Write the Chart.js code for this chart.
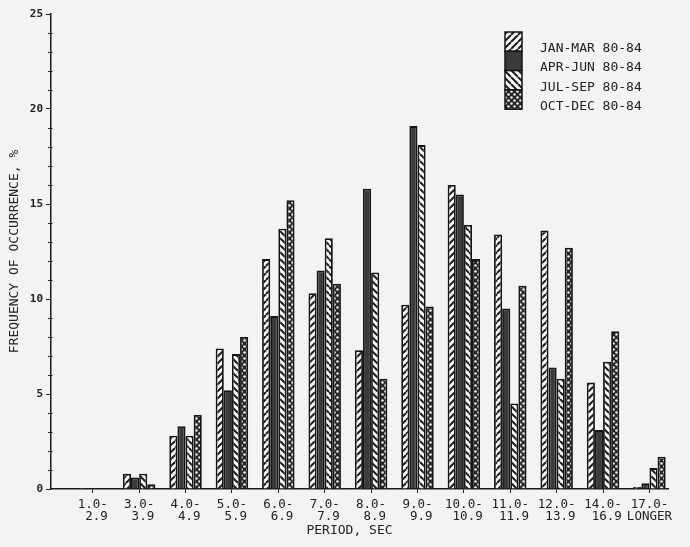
<!DOCTYPE html>
<html>
<head>
<meta charset="utf-8">
<title>Frequency of occurrence by wave period</title>
<script src="https://cdn.jsdelivr.net/npm/chart.js@4.4.1/dist/chart.umd.min.js"></script>
<style>
  html, body { margin: 0; padding: 0; background: #f3f3f3; }
  #wrap { width: 690px; height: 547px; position: relative; }
</style>
</head>
<body>
<div id="wrap"><canvas id="periodChart"></canvas></div>
<script>
// period bins, two-line tick labels
const periodFrom = ["1.0-", "3.0-", "4.0-", "5.0-", "6.0-", "7.0-", "8.0-", "9.0-", "10.0-", "11.0-", "12.0-", "14.0-", "17.0-"];
const periodTo = [" 2.9", " 3.9", " 4.9", " 5.9", " 6.9", " 7.9", " 8.9", " 9.9", " 10.9", " 11.9", " 13.9", " 16.9", "LONGER"];

// frequency of occurrence, %
const janMar = [0.05, 0.8, 2.8, 7.4, 12.1, 10.3, 7.3, 9.7, 16.0, 13.4, 13.6, 5.6, 0.1];
const aprJun = [0.05, 0.6, 3.3, 5.2, 9.1, 11.5, 15.8, 19.1, 15.5, 9.5, 6.4, 3.1, 0.3];
const julSep = [0.05, 0.8, 2.8, 7.1, 13.7, 13.2, 11.4, 18.1, 13.9, 4.5, 5.8, 6.7, 1.1];
const octDec = [0, 0.25, 3.9, 8.0, 15.2, 10.8, 5.8, 9.6, 12.1, 10.7, 12.7, 8.3, 1.7];

const seriesLabels = ["JAN-MAR 80-84", "APR-JUN 80-84", "JUL-SEP 80-84", "OCT-DEC 80-84"];
const yTickValues = [0, 5, 10, 15, 20, 25];

const MONO = "'DejaVu Sans Mono', 'Liberation Mono', monospace";

function makePattern(kind) {
    const size = kind === "dots" ? 6 : 7;
    const c = document.createElement("canvas");
    c.width = size;
    c.height = size;
    const g = c.getContext("2d");
    if (kind === "solid") {
        g.fillStyle = "#3a3a3a";
        g.fillRect(0, 0, size, size);
    } else if (kind === "dots") {
        g.fillStyle = "#242424";
        g.fillRect(0, 0, size, size);
        g.fillStyle = "#f0f0f0";
        [[1.5, 1.5], [4.5, 4.5]].forEach(([px, py]) => {
            g.beginPath();
            g.arc(px, py, 1.3, 0, Math.PI * 2);
            g.fill();
        });
    } else {
        g.fillStyle = "#fafafa";
        g.fillRect(0, 0, size, size);
        g.strokeStyle = "#1c1c1c";
        g.lineWidth = 2;
        for (const o of [-size, 0, size]) {
            g.beginPath();
            if (kind === "fwd") {
                g.moveTo(o, size);
                g.lineTo(o + size, 0);
            } else {
                g.moveTo(o, 0);
                g.lineTo(o + size, size);
            }
            g.stroke();
        }
    }
    return g.createPattern(c, "repeat");
}

const patterns = [makePattern("fwd"), makePattern("solid"), makePattern("back"), makePattern("dots")];

// bins sit at x = 1..13 on a linear axis so the y axis can start left of the first bin
const toPoints = values => values.map((v, i) => ({ x: i + 1, y: v }));

const datasets = [janMar, aprJun, julSep, octDec].map((values, i) => ({
    label: seriesLabels[i],
    data: toPoints(values),
    backgroundColor: patterns[i],
    borderColor: "#151515",
    borderWidth: 1.8,
    categoryPercentage: 0.7,
    barPercentage: 1.0
}));

// small unit ticks on the y axis
const minorTicks = {
    id: "minorTicks",
    afterDraw(chart) {
        const ctx = chart.ctx;
        const y = chart.scales.y;
        const x0 = chart.chartArea.left;
        ctx.save();
        ctx.strokeStyle = "#222";
        ctx.lineWidth = 1;
        for (let v = 1; v < 25; v++) {
            if (v % 5 === 0) continue;
            const py = Math.round(y.getPixelForValue(v)) + 0.5;
            ctx.beginPath();
            ctx.moveTo(x0 - 3, py);
            ctx.lineTo(x0 + 1.5, py);
            ctx.stroke();
        }
        ctx.restore();
    }
};

// x title, set a little left of the axis centre as in the plot
const xTitle = {
    id: "xTitle",
    afterDraw(chart) {
        const ctx = chart.ctx;
        const a = chart.chartArea;
        ctx.save();
        ctx.fillStyle = "#222";
        ctx.font = "13px " + MONO;
        ctx.textAlign = "center";
        ctx.textBaseline = "middle";
        ctx.fillText("PERIOD, SEC", (a.left + a.right) / 2 - 10, 531);
        ctx.restore();
    }
};

// stacked pattern boxes in the upper right
const legendBoxes = {
    id: "legendBoxes",
    afterDraw(chart) {
        const ctx = chart.ctx;
        const bx = 505, bw = 17, bh = 19.3, top = 32;
        ctx.save();
        chart.data.datasets.forEach((ds, i) => {
            const by = top + i * bh;
            ctx.fillStyle = ds.backgroundColor;
            ctx.fillRect(bx, by, bw, bh);
            ctx.strokeStyle = "#151515";
            ctx.lineWidth = 1.5;
            ctx.strokeRect(bx, by, bw, bh);
            ctx.fillStyle = "#222";
            ctx.font = "13px " + MONO;
            ctx.textAlign = "left";
            ctx.textBaseline = "middle";
            ctx.fillText(ds.label, 540, by + bh / 2 + 7);
        });
        ctx.restore();
    }
};

new Chart(document.getElementById("periodChart").getContext("2d"), {
    type: "bar",
    data: { datasets },
    options: {
        responsive: true,
        maintainAspectRatio: false,
        animation: false,
        layout: { padding: { top: 14, right: 22, left: 0, bottom: 0 } },
        plugins: {
            legend: { display: false },
            tooltip: { enabled: false }
        },
        scales: {
            x: {
                type: "linear",
                min: 0.1,
                max: 13.4,
                offset: false,
                afterBuildTicks(scale) {
                    scale.ticks = periodFrom.map((_, i) => ({ value: i + 1 }));
                },
                afterFit(scale) {
                    scale.height = 58;
                },
                grid: {
                    display: true,
                    offset: false,
                    drawOnChartArea: false,
                    drawTicks: true,
                    tickLength: 4,
                    color: "#222"
                },
                border: { display: true, color: "#1a1a1a", width: 1.5 },
                ticks: {
                    autoSkip: false,
                    maxRotation: 0,
                    padding: 5,
                    color: "#222",
                    font: { family: MONO, size: 12.5, lineHeight: 1.0 },
                    callback: (value) => {
                        const i = Math.round(value) - 1;
                        return [periodFrom[i], periodTo[i]];
                    }
                }
            },
            y: {
                min: 0,
                max: 25,
                afterBuildTicks(scale) {
                    scale.ticks = yTickValues.map(v => ({ value: v }));
                },
                afterFit(scale) {
                    scale.width = 51;
                },
                grid: {
                    display: true,
                    drawOnChartArea: false,
                    drawTicks: true,
                    tickLength: 5,
                    color: "#222"
                },
                border: { display: true, color: "#1a1a1a", width: 1.5 },
                ticks: {
                    padding: 3,
                    color: "#222",
                    font: { family: MONO, size: 11, weight: "bold" }
                },
                title: {
                    display: true,
                    text: "FREQUENCY OF OCCURRENCE, %",
                    color: "#222",
                    padding: { top: 7, bottom: 0 },
                    font: { family: MONO, size: 13 }
                }
            }
        }
    },
    plugins: [minorTicks, xTitle, legendBoxes]
});
</script>
</body>
</html>
